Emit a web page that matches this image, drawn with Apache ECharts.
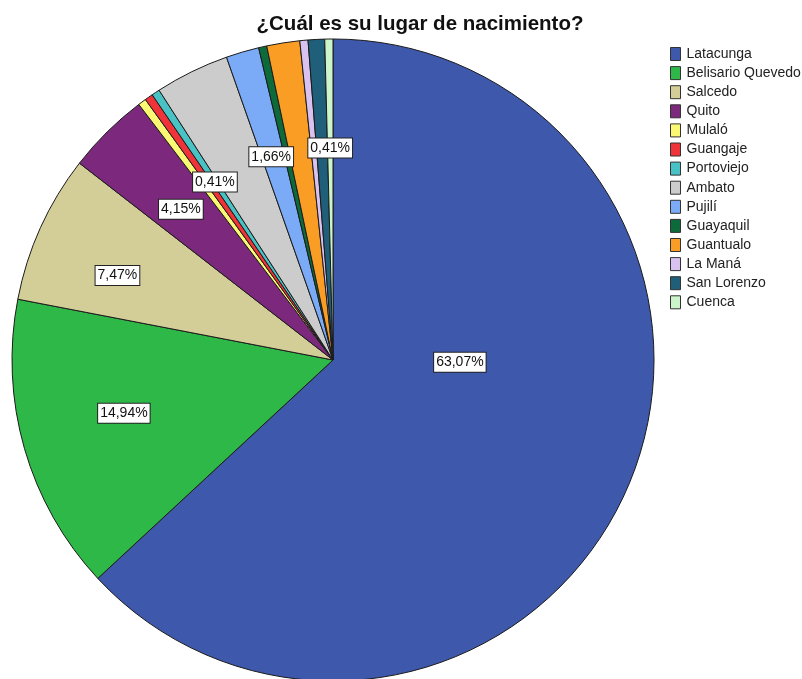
<!DOCTYPE html>
<html><head><meta charset="utf-8">
<script src="https://cdn.jsdelivr.net/npm/echarts@6/dist/echarts.min.js"></script>
<style>html,body{margin:0;padding:0;background:#fff}#c{width:802px;height:679px}</style>
</head><body><div id="c"></div>
<script>
const categories = ['Latacunga','Belisario Quevedo','Salcedo','Quito','Mulaló','Guangaje','Portoviejo','Ambato','Pujilí','Guayaquil','Guantualo','La Maná','San Lorenzo','Cuenca'];
const percentages = [63.07, 14.94, 7.47, 4.15, 0.41, 0.41, 0.41, 3.73, 1.66, 0.41, 1.66, 0.41, 0.83, 0.41];
const colors = ['#3E58AC','#2EB848','#D3CE97','#7C287D','#FBF873','#EF3338','#48C2C5','#CCCCCC','#7BAAF7','#0D6B3B','#F99D25','#D9C2F0','#1F5F7A','#CCF5CC'];
const labelled = ['Latacunga','Belisario Quevedo','Salcedo','Quito','Portoviejo','Pujilí','Cuenca'];

// label placement tweaks (layout, not data)
const CX = 333, CY = 360, R = 321;
const nudge = {
  'Belisario Quevedo': [1.5, -7], 'Salcedo': [-16, 6], 'Quito': [2, 5],
  'Portoviejo': [3, 4.5], 'Pujilí': [0, 7], 'Cuenca': [0, 7]
};

const chart = echarts.init(document.getElementById('c'));
const data = categories.map((name, i) => {
  const item = { name, value: percentages[i], itemStyle: { color: colors[i] } };
  item.label = { show: labelled.includes(name) };
  if (i === 0) item.label.offset = [-23, -63];
  return item;
});
chart.setOption({
  animation: false,
  title: {
    text: '¿Cuál es su lugar de nacimiento?',
    left: 415, top: 9, textAlign: 'center',
    textStyle: { fontFamily: 'Liberation Sans', fontSize: 20.5, fontWeight: 'bold', color: '#111' }
  },
  legend: {
    orient: 'vertical', left: 665, top: 42,
    itemWidth: 10, itemHeight: 13, itemGap: 5.1,
    icon: 'rect',
    itemStyle: { borderColor: '#333', borderWidth: 1 },
    textStyle: { fontFamily: 'Liberation Sans', fontSize: 14, lineHeight: 13, color: '#222', padding: [0, 0, 0, 1] },
    data: categories
  },
  series: [{
    type: 'pie',
    center: [CX, CY], radius: [0, R],
    startAngle: 90, clockwise: true,
    avoidLabelOverlap: false,
    itemStyle: { borderColor: '#1a1a1a', borderWidth: 1 },
    label: {
      position: 'inside',
      formatter: p => p.value.toFixed(2).replace('.', ',') + '%',
      fontFamily: 'Liberation Sans', fontSize: 14, color: '#111',
      backgroundColor: '#fff', borderColor: '#222', borderWidth: 1,
      padding: [3, 2, 2, 2]
    },
    labelLine: { show: false },
    emphasis: { disabled: true },
    labelLayout: function (p) {
      if (p.dataIndex === 0) return {};
      const r = p.labelRect;
      const lx = r.x + r.width / 2, ly = r.y + r.height / 2;
      const k = 1.34;
      const n = nudge[categories[p.dataIndex]] || [0, 0];
      return { x: CX + (lx - CX) * k + n[0], y: CY + (ly - CY) * k + n[1] };
    },
    data: data
  }]
});
</script></body></html>
